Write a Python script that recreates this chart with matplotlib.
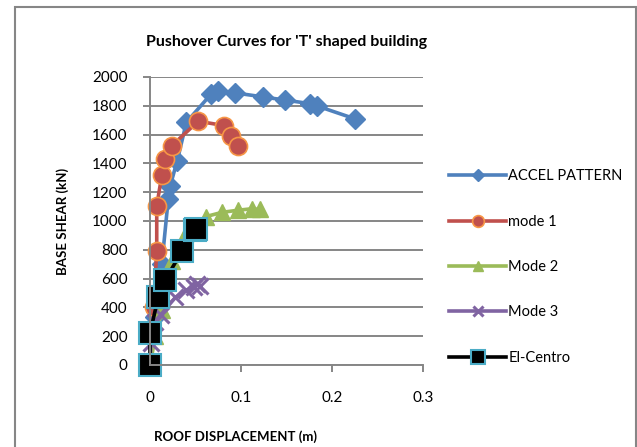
import matplotlib.pyplot as plt
from matplotlib.patches import Rectangle

plt.rcParams['font.family'] = ['Lato', 'DejaVu Sans']

# data (displacement m, base shear kN)
accel_x = [0, 0.006, 0.013, 0.02, 0.022, 0.03, 0.04, 0.067, 0.075, 0.093, 0.124, 0.148, 0.176, 0.184, 0.225]
accel_y = [0, 330, 700, 1150, 1240, 1420, 1686, 1880, 1905, 1890, 1862, 1840, 1815, 1798, 1710]

mode1_x = [0, 0.004, 0.0074, 0.0074, 0.013, 0.017, 0.024, 0.053, 0.081, 0.089, 0.097]
mode1_y = [0, 400, 790, 1105, 1318, 1430, 1523, 1693, 1663, 1593, 1523]

mode2_x = [0, 0.006, 0.013, 0.024, 0.04, 0.061, 0.079, 0.097, 0.112, 0.121]
mode2_y = [0, 200, 380, 720, 920, 1030, 1060, 1075, 1085, 1080]

mode3_x = [0, 0.001, 0.005, 0.012, 0.028, 0.04, 0.048, 0.052, 0.055]
mode3_y = [0, 150, 300, 350, 470, 520, 540, 565, 548]

elc_x = [0, 0, 0.009, 0.017, 0.035, 0.049, 0.051]
elc_y = [0, 220, 470, 593, 790, 937, 946]

x_ticks = [0, 0.1, 0.2, 0.3]
y_ticks = list(range(0, 2001, 200))

fig = plt.figure(figsize=(6.37, 4.47), dpi=100)
ax = fig.add_axes([150 / 637, 1 - 365 / 447, 273 / 637, 288 / 447])

gray = '#868686'
ax.plot(accel_x, accel_y, color='#4F81BD', lw=2.6, marker='D', ms=10,
        mfc='#4F81BD', mec='#4F81BD', label='ACCEL PATTERN', clip_on=False)
ax.plot(mode1_x, mode1_y, color='#C0504D', lw=2.6, marker='o', ms=13,
        mfc='#C0504D', mec='#F79646', mew=1.2, label='mode 1', clip_on=False)
ax.plot(mode2_x, mode2_y, color='#9BBB59', lw=2.6, marker='^', ms=11,
        mfc='#9BBB59', mec='#9BBB59', label='Mode 2', clip_on=False)
ax.plot(mode3_x, mode3_y, color='#8064A2', lw=2.6, marker='x', ms=11,
        mew=2.2, mec='#8064A2', label='Mode 3', clip_on=False)
ax.plot(elc_x, elc_y, color='black', lw=2.6, marker='s', ms=16,
        mfc='black', mec='#4BACC6', mew=1.5, label='El-Centro', clip_on=False)

ax.set_xlim(0, 0.3)
ax.set_ylim(0, 2000)
ax.set_xticks(x_ticks)
ax.set_xticklabels(['0', '0.1', '0.2', '0.3'])
ax.set_yticks(y_ticks)
ax.yaxis.grid(True, color=gray, lw=1.4)
ax.set_axisbelow(True)
for s in ['top', 'right']:
    ax.spines[s].set_visible(False)
for s in ['left', 'bottom']:
    ax.spines[s].set_color(gray)
    ax.spines[s].set_linewidth(1.4)
ax.tick_params(axis='both', direction='out', length=5, width=1.4, color=gray,
               labelsize=11)
ax.tick_params(axis='y', pad=11)
ax.tick_params(axis='x', pad=14)

ax.set_title("Pushover Curves for 'T' shaped building", fontsize=11.5,
             fontweight='bold', pad=22)
ax.set_xlabel('ROOF DISPLACEMENT (m)', fontsize=9.5, fontweight='bold')
ax.xaxis.set_label_coords((235 - 150) / 273, -(437 - 365) / 288)
ax.xaxis.label.set_va('center')
ax.set_ylabel('BASE SHEAR (kN)', fontsize=9.5, fontweight='bold')
ax.yaxis.set_label_coords(-(150 - 63) / 273, 0.5)
ax.yaxis.label.set_va('center')

ax.legend(loc='center left', bbox_to_anchor=(436 / 637, 1 - 267 / 447),
          bbox_transform=fig.transFigure, frameon=False, fontsize=10.5,
          handlelength=3.9, labelspacing=2.15, handletextpad=0.15,
          markerscale=0.65)

fig.patches.append(Rectangle((15 / 637, -0.01), 621 / 637, 1 - 7 / 447 + 0.01,
                             transform=fig.transFigure, fill=False,
                             edgecolor=gray, lw=1.5))

fig.savefig('out.png', dpi=100)
